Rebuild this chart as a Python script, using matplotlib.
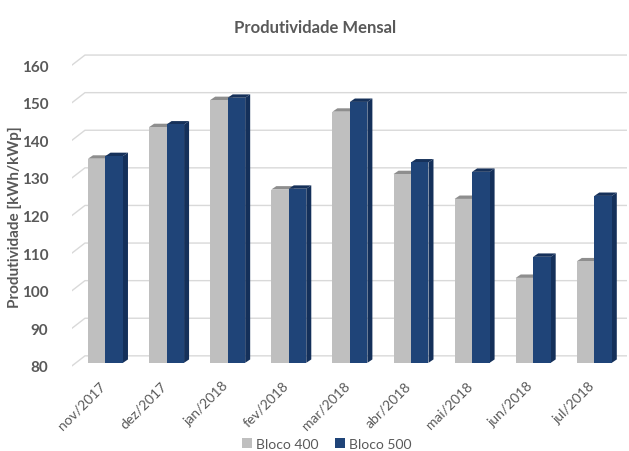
import matplotlib
matplotlib.use('Agg')
import matplotlib.pyplot as plt
from matplotlib.patches import Polygon, Patch
import numpy as np

plt.rcParams['font.family'] = ['Lato', 'DejaVu Sans']

meses = ['nov/2017', 'dez/2017', 'jan/2018', 'fev/2018', 'mar/2018',
         'abr/2018', 'mai/2018', 'jun/2018', 'jul/2018']
bloco400 = [134.3, 142.7, 149.9, 126.1, 146.8, 130.2, 123.6, 102.6, 107.0]
bloco500 = [135.0, 143.4, 150.5, 126.3, 149.4, 133.3, 130.8, 108.2, 124.4]
yticks = [80, 90, 100, 110, 120, 130, 140, 150, 160]

cinza = ('#bfbfbf', '#8e8e8e', '#9a9a9a')      # front, top, side
azul = ('#1f4478', '#16315a', '#14305a')

fig = plt.figure(figsize=(6.29, 4.52), dpi=100)
ax = fig.add_axes([72/629, 72/452, 555/629, 335/452])
ax.set_xlim(-0.548, 8.535)
ax.set_ylim(75.7, 164.8)
for s in ax.spines.values():
    s.set_visible(False)

base = 80
w = 0.286      # bar width in category units
dx = 0.082     # depth offset (x)
dy = 0.9       # depth offset (y, data units)

# gridlines with little perspective corner on the left
x0, x1, x2 = -0.548, -0.336, 8.535
for v in yticks:
    ax.plot([x0, x1, x2], [v - 0.8, v + 1.86, v + 1.86], color='#d9d9d9', lw=1.0, zorder=1)

def bar3d(x, v, cols):
    xl, xr = x, x + w
    ax.add_patch(Polygon([(xr, base), (xr + dx, base + dy), (xr + dx, v + dy), (xr, v)],
                         closed=True, fc=cols[2], ec='none', zorder=2))
    ax.add_patch(Polygon([(xl, v), (xl + dx, v + dy), (xr + dx, v + dy), (xr, v)],
                         closed=True, fc=cols[1], ec='none', zorder=2))
    ax.add_patch(Polygon([(xl, base), (xr, base), (xr, v), (xl, v)],
                         closed=True, fc=cols[0], ec='none', zorder=3))

x = np.arange(len(meses))
for i in x:
    bar3d(i - w, bloco400[i], cinza)
    bar3d(i, bloco500[i], azul)

ax.set_yticks([v - 0.8 for v in yticks])
ax.set_yticklabels([str(v) for v in yticks], fontsize=11, fontweight='bold', color='#595959')
ax.tick_params(axis='y', length=0, pad=17)

ax.set_xticks(x - 0.1)
ax.set_xticklabels(meses, rotation=45, ha='right', va='top', rotation_mode='anchor',
                   fontsize=10, color='#595959')
ax.tick_params(axis='x', length=0, pad=0)

fig.text(15/629, 1 - 217/452, 'Produtividade [kWh/kWp]', rotation=90, ha='center', va='center',
         fontsize=11, fontweight='bold', color='#595959')
fig.text(315/629, 1 - 28/452, 'Produtividade Mensal', ha='center', va='center',
         fontsize=12, fontweight='bold', color='#595959')

handles = [Patch(fc=cinza[0], label='Bloco 400'), Patch(fc=azul[0], label='Bloco 500')]
fig.legend(handles=handles, loc='center', bbox_to_anchor=(327/629, 1 - 445/452), ncol=2,
           frameon=False, fontsize=10, handlelength=0.7, handleheight=0.7,
           handletextpad=0.3, columnspacing=1.2, labelcolor='#595959')

fig.savefig('out.png', dpi=100, facecolor='white')
